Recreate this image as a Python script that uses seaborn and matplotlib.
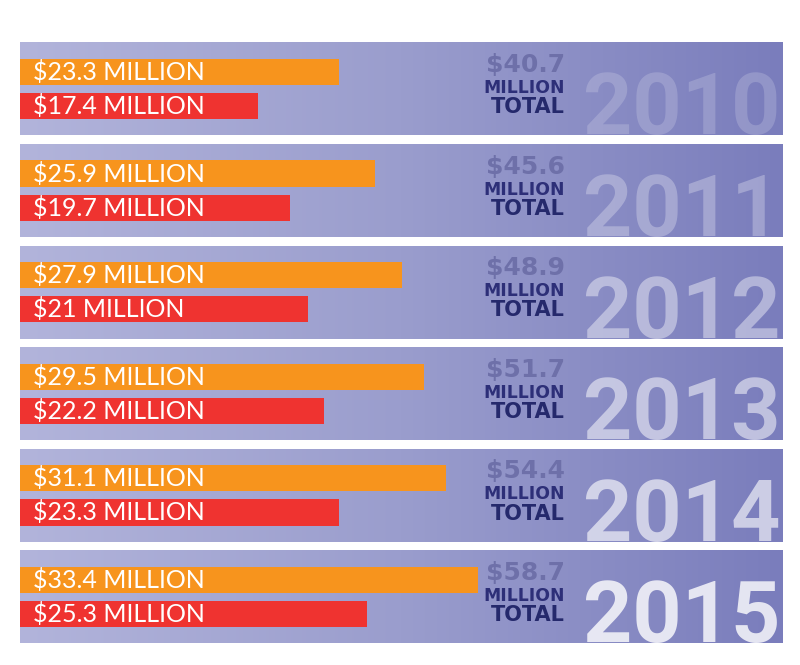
import numpy as np
import pandas as pd
import matplotlib
matplotlib.use("Agg")
import matplotlib.pyplot as plt
from matplotlib.colors import LinearSegmentedColormap
from matplotlib.transforms import Bbox, TransformedBbox
import seaborn as sns

years = ["2010", "2011", "2012", "2013", "2014", "2015"]
orange_vals = [23.3, 25.9, 27.9, 29.5, 31.1, 33.4]
red_vals = [17.4, 19.7, 21.0, 22.2, 23.3, 25.3]
totals = [40.7, 45.6, 48.9, 51.7, 54.4, 58.7]
year_alpha = [0.18, 0.28, 0.42, 0.52, 0.62, 0.80]

ORANGE = "#f7941d"
RED = "#ef3330"

sns.set_theme(style="white")
plt.rcParams["font.family"] = ["Lato", "DejaVu Sans"]

df = pd.DataFrame({
    "year": years * 2,
    "series": ["a"] * len(years) + ["b"] * len(years),
    "value": orange_vals + red_vals,
})

fig = plt.figure(figsize=(8, 6.65), dpi=100, facecolor="white")
XMAX = 55.7
ax = fig.add_axes([20 / 800, (665 - 647.8) / 665, 763 / 800, 609.6 / 665])
ax.set_facecolor("white")

cmap = LinearSegmentedColormap.from_list("bg", ["#b2b4db", "#9a9dcd", "#7a7dbc"])
grad = np.linspace(0, 1, 256).reshape(1, -1)
HALF = 0.4575
for i in range(len(years)):
    ax.imshow(grad, cmap=cmap, aspect="auto",
              extent=(0, XMAX, i + HALF, i - HALF), zorder=0, interpolation="bicubic")

sns.barplot(data=df, y="year", x="value", hue="series", order=years,
            palette=[ORANGE, RED], orient="h", width=0.67, gap=0.23,
            legend=False, ax=ax, zorder=2, saturation=1,
            edgecolor="none", linewidth=0)

ax.set_xlim(0, XMAX)
ax.set_ylim(5.5, -0.5)
for s in ax.spines.values():
    s.set_visible(False)
ax.set_xticks([])
ax.set_yticks([])
ax.set_xlabel("")
ax.set_ylabel("")

off = 0.1675
dv = ["DejaVu Sans"]
for i in range(len(years)):
    ax.text(0.95, i - off, f"${orange_vals[i]:g} MILLION", color="white",
            fontsize=18, va="center", ha="left", zorder=3)
    ax.text(0.95, i + off, f"${red_vals[i]:g} MILLION", color="white",
            fontsize=18, va="center", ha="left", zorder=3)
    xr = 39.78
    ax.text(xr, i - 0.236, f"${totals[i]:g}", color="#6e70a9", fontsize=18,
            fontweight="bold", family=dv, va="center", ha="right", zorder=3)
    ax.text(xr, i - 0.01, "MILLION", color="#2d2f78", fontsize=12.4,
            fontweight="bold", family=dv, va="center", ha="right", zorder=3)
    ax.text(xr, i + 0.18, "TOTAL", color="#25296c", fontsize=15,
            fontweight="bold", family=dv, va="center", ha="right", zorder=3)
    t = ax.text(41.1, i + HALF - 0.01, years[i], color="white",
                alpha=year_alpha[i], fontsize=62, fontweight="bold",
                family=["Roboto", "DejaVu Sans"],
                va="baseline", ha="left", zorder=1)
    t.set_clip_box(TransformedBbox(Bbox([[0, i - HALF], [XMAX, i + HALF]]), ax.transData))

fig.savefig("out.png", dpi=100, facecolor="white")
